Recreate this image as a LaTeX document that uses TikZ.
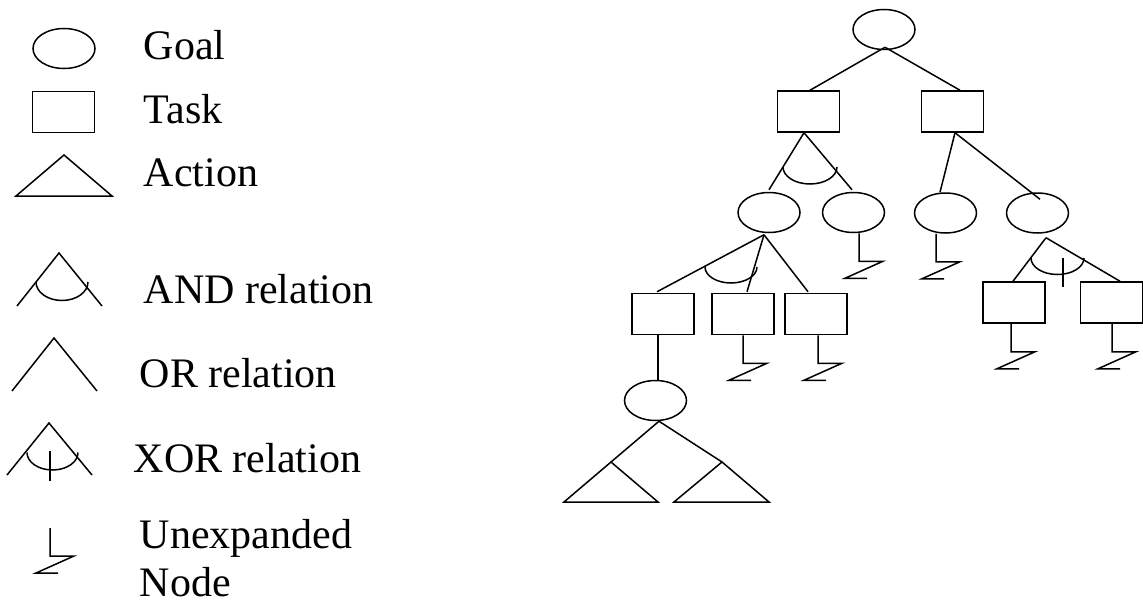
\documentclass[tikz,border=0pt]{standalone}
\usepackage{fontspec}
\setmainfont{Liberation Serif}
\usetikzlibrary{shapes.geometric}
\begin{document}
\begin{tikzpicture}[x=1pt,y=-1pt,line width=1.5pt,
  goal/.style={draw,ellipse,inner sep=0pt,minimum width=62pt,minimum height=40pt},
  task/.style={draw,rectangle,inner sep=0pt,minimum width=62pt,minimum height=41pt},
  lgtext/.style={anchor=base west,inner sep=0pt,font=\fontsize{42}{49}\selectfont},
  unexp/.pic={\draw (0,0) -- (0,28) -- (24,28) -- (-14,45) -- (8,45);}
]
\useasboundingbox (0,0) rectangle (1143,602);

% ---------- legend ----------
\node[goal] (lgoal) at (64,48.5) {};
\node[lgtext] (tgoal) at (143,59.5) {Goal};
\node[task] (ltask) at (63.5,112) {};
\node[lgtext] (ttask) at (143,123) {Task};
\draw (16,196) -- (64,155) -- (112,196) -- cycle;
\node[lgtext] (taction) at (143,186) {Action};

% AND relation symbol
\draw (17,306) -- (59,253) -- (102,306);
\draw (36,282) arc[start angle=180,end angle=0,x radius=26,y radius=18.5];
\node[lgtext] (tand) at (143,303) {AND relation};

% OR relation symbol
\draw (12,391) -- (54,338) -- (97,391);
\node[lgtext] (tor) at (139,387) {OR relation};

% XOR relation symbol
\draw (7,475) -- (49,423) -- (92,475);
\draw (27,452.5) arc[start angle=180,end angle=0,x radius=25.5,y radius=17.5];
\draw (50,451) -- (50,481);
\node[lgtext] (txor) at (133,472) {XOR relation};

% unexpanded node symbol
\pic at (50,528) {unexp};
\node[lgtext] (tunx1) at (139,548) {Unexpanded};
\node[lgtext,text depth=0pt] (tunx2) at (139,596) {Node};

% ---------- goal tree ----------
\node[goal] (root) at (884,29.5) {};
\node[task] (ta) at (808.5,111.5) {};
\node[task] (tb) at (952.5,111.5) {};
\node[goal] (g1) at (769,212.5) {};
\node[goal] (g2) at (853.5,212.5) {};
\node[goal] (g3) at (945.5,213) {};
\node[goal] (g4) at (1037.5,213) {};
\node[task] (t1) at (663,314) {};
\node[task] (t2) at (743,314) {};
\node[task] (t3) at (816,314) {};
\node[task] (t5) at (1014,302.5) {};
\node[task] (t6) at (1111.5,302.5) {};
\node[goal] (g5) at (655.5,400.5) {};

% actions below the lowest goal
\coordinate (a1) at (611,462);
\coordinate (a2) at (722,462);
\draw (564,502) -- (a1) -- (658,502) -- cycle;
\draw (674,502) -- (a2) -- (769,502) -- cycle;

% root: OR
\draw ([xshift=1pt,yshift=3pt]root.south) -- ([xshift=1.5pt]ta.north);
\draw ([xshift=1pt,yshift=3pt]root.south) -- ([xshift=7.5pt]tb.north);

% ta: AND
\draw ([xshift=-4.5pt]ta.south) -- ([yshift=2pt]g1.north);
\draw ([xshift=-4.5pt]ta.south) -- ([xshift=-1.5pt,yshift=2pt]g2.north);
\draw (783,167) arc[start angle=180,end angle=0,x radius=27,y radius=17];

% tb: OR
\draw ([xshift=2.5pt]tb.south) -- ([xshift=-5.5pt]g3.north);
\draw ([xshift=2.5pt]tb.south) -- ([xshift=2.5pt,yshift=-7pt]g4.north);

% g1: AND over t1,t2 and OR to t3
\draw ([xshift=-5pt,yshift=-1.5pt]g1.south) -- ([xshift=-6pt,yshift=1pt]t1.north);
\draw ([xshift=-5pt,yshift=-1.5pt]g1.south) -- ([xshift=4pt,yshift=1pt]t2.north);
\draw ([xshift=-5pt,yshift=-1.5pt]g1.south) -- ([xshift=-8pt,yshift=1pt]t3.north);
\draw (705,267) arc[start angle=180,end angle=0,x radius=26,y radius=16];

% g4: XOR
\draw ([xshift=8.5pt,yshift=-4pt]g4.south) -- ([xshift=-1pt]t5.north);
\draw ([xshift=8.5pt,yshift=-4pt]g4.south) -- ([xshift=8.5pt]t6.north);
\draw (1031,258) arc[start angle=180,end angle=0,x radius=26.5,y radius=16.5];
\draw (1063,258) -- (1063,287);

% t1 -> g5 -> actions
\draw ([xshift=-5pt]t1.south) -- ([xshift=2.5pt]g5.north);
\draw ([xshift=3.5pt]g5.south) -- (a1);
\draw ([xshift=3.5pt]g5.south) -- (a2);

% unexpanded nodes
\pic at ([xshift=5.5pt]g2.south) {unexp};
\pic at ([xshift=-9.5pt]g3.south) {unexp};
\pic at (t2.south) {unexp};
\pic at ([xshift=2pt]t3.south) {unexp};
\pic at ([xshift=-3pt]t5.south) {unexp};
\pic at ([xshift=0.5pt]t6.south) {unexp};
\end{tikzpicture}
\end{document}
